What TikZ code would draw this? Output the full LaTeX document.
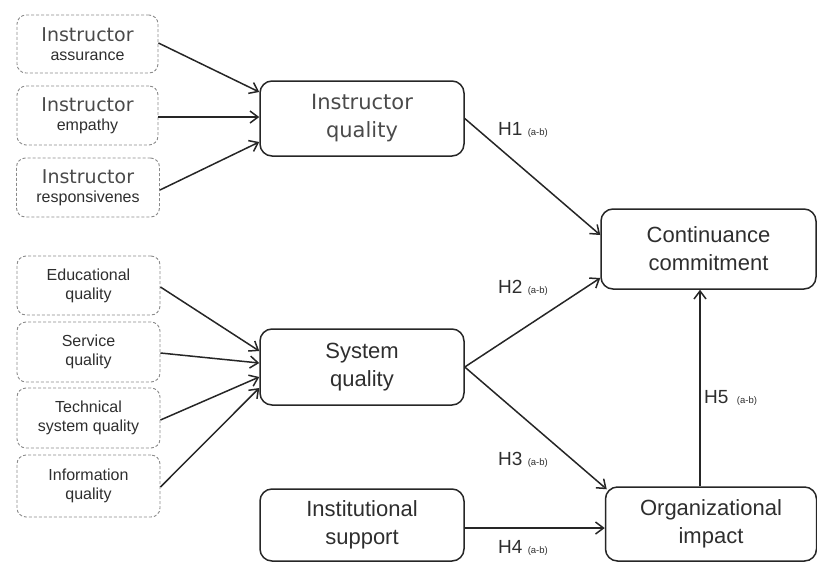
\documentclass[tikz,border=0pt]{standalone}
\usepackage{fontspec}
\setmainfont{Liberation Sans}
\newfontfamily\dvs{DejaVu Sans}
\usetikzlibrary{arrows.meta,calc}
\definecolor{txt}{HTML}{2E2E2E}
\definecolor{itxt}{HTML}{4A4A4A}
\definecolor{dash}{HTML}{8A8A8A}
\begin{document}
\begin{tikzpicture}[x=1pt,y=-1pt,
  dbox/.style={draw=dash,dash pattern=on 3pt off 2pt,line width=0.9pt,rounded corners=9pt,align=center,text=txt,inner sep=0pt,font=\fontsize{16}{19}\selectfont},
  mbox/.style={draw=black!85,line width=1.5pt,rounded corners=12pt,align=center,text=txt,inner sep=0pt,font=\fontsize{22}{28}\selectfont},
  arr/.style={draw=black!85,line width=1.5pt,-{Straight Barb[length=8pt,width=12pt,line width=1.5pt]}},
  hlab/.style={text=txt,inner sep=0pt,anchor=west,font=\fontsize{19}{22}\selectfont}
]
\useasboundingbox (0,0) rectangle (817,563);
% dashed boxes
\node[dbox,minimum width=141,minimum height=58] (ia) at (87.5,44) {{\dvs\color{itxt}\fontsize{19}{22}\selectfont Instructor}\\assurance};
\node[dbox,minimum width=141,minimum height=59] (ie) at (87.5,115.5) {{\dvs\color{itxt}\fontsize{19}{22}\selectfont Instructor}\\empathy};
\node[dbox,minimum width=143,minimum height=59] (ir) at (88,187.5) {{\dvs\color{itxt}\fontsize{19}{22}\selectfont Instructor}\\responsivenes};
\node[dbox,minimum width=143,minimum height=59] (ed) at (88.5,285.5) {Educational\\quality};
\node[dbox,minimum width=143,minimum height=60] (sv) at (88.5,352) {Service\\quality};
\node[dbox,minimum width=143,minimum height=60] (ts) at (88.5,418) {Technical\\system quality};
\node[dbox,minimum width=143,minimum height=62] (in) at (88.5,486) {Information\\quality};
% main boxes
\node[mbox,minimum width=204,minimum height=75] (iq) at (362,118.5) {{\dvs\color{itxt}\fontsize{21}{28}\selectfont Instructor}\\{\dvs\color{itxt}\fontsize{21}{28}\selectfont quality}};
\node[mbox,minimum width=204,minimum height=76] (sq) at (362,367) {System\\quality};
\node[mbox,minimum width=204,minimum height=72] (is) at (362,525) {Institutional\\support};
\node[mbox,minimum width=215,minimum height=80] (cc) at (708.5,249) {Continuance\\commitment};
\node[mbox,minimum width=211,minimum height=74] (oi) at (711,524) {Organizational\\impact};
% input arrows
\draw[arr] ($(ia.east)+(0,-1)$) -- ($(iq.west)+(0,-26.5)$);
\draw[arr] ($(ie.east)+(0,1.5)$) -- ($(iq.west)+(0,-1.5)$);
\draw[arr] ($(ir.east)+(0,2.5)$) -- ($(iq.west)+(0,23.5)$);
\draw[arr] ($(ed.east)+(0,1.5)$) -- ($(sq.west)+(0,-16)$);
\draw[arr] ($(sv.east)+(0,1)$) -- ($(sq.west)+(0,-4)$);
\draw[arr] ($(ts.east)+(0,2)$) -- ($(sq.west)+(0,10)$);
\draw[arr] ($(in.east)+(0,1)$) -- ($(sq.west)+(0,21)$);
% hypotheses
\coordinate (iqo) at (iq.east);
\coordinate (sqo) at (sq.east);
\draw[arr] (iqo) -- ($(cc.west)+(0,-14)$);
\draw[arr] (sqo) -- ($(cc.west)+(0,29)$);
\draw[arr] (sqo) -- ($(oi.north west)+(2,3)$);
\draw[arr] ($(is.east)+(0,3)$) -- ($(oi.west)+(0,4)$);
\draw[arr] ($(oi.north)+(-11,0)$) -- ($(cc.south)+(-8.5,0)$);
% labels
\node[hlab] (h1) at (498,130) {H1 {\fontsize{9.5}{12}\selectfont(a-b)}};
\node[hlab] (h2) at (498,288) {H2 {\fontsize{9.5}{12}\selectfont(a-b)}};
\node[hlab] (h3) at (498,460) {H3 {\fontsize{9.5}{12}\selectfont(a-b)}};
\node[hlab] (h4) at (498,548) {H4 {\fontsize{9.5}{12}\selectfont(a-b)}};
\node[hlab] (h5) at (704,398) {H5 \,{\fontsize{9.5}{12}\selectfont(a-b)}};
\end{tikzpicture}
\end{document}
